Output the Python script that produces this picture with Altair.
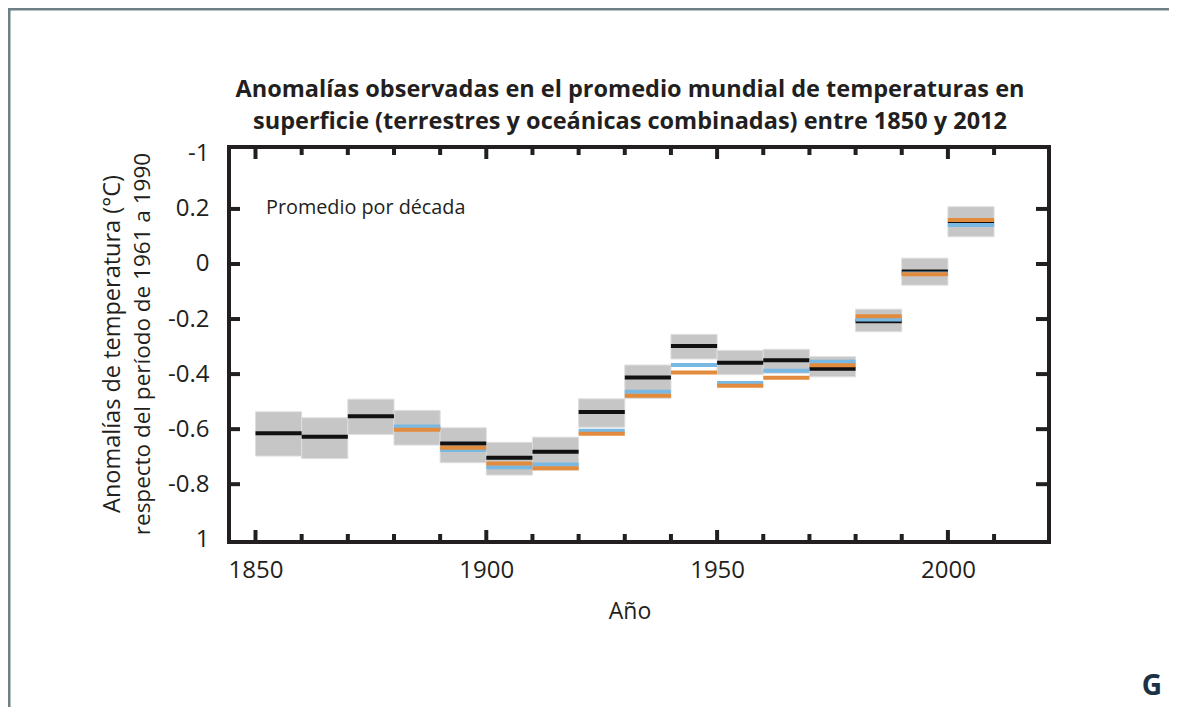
import altair as alt
import pandas as pd

# ---- data ----
decades = [1850, 1860, 1870, 1880, 1890, 1900, 1910, 1920, 1930, 1940,
           1950, 1960, 1970, 1980, 1990, 2000]
band_top = [-0.537, -0.559, -0.491, -0.532, -0.595, -0.648, -0.629, -0.490,
            -0.367, -0.256, -0.314, -0.310, -0.337, -0.164, 0.021, 0.208]
band_bottom = [-0.698, -0.707, -0.619, -0.658, -0.722, -0.767, -0.749, -0.593,
               -0.488, -0.345, -0.402, -0.397, -0.410, -0.246, -0.077, 0.099]
hadcrut4 = [-0.615, -0.628, -0.553, -0.597, -0.652, -0.704, -0.682, -0.538,
            -0.412, -0.298, -0.359, -0.350, -0.381, -0.208, -0.027, 0.150]
giss = [None, None, None, -0.590, -0.676, -0.738, -0.728, -0.606,
        -0.464, -0.367, -0.432, -0.388, -0.355, -0.202, -0.035, 0.142]
ncdc = [None, None, None, -0.602, -0.668, -0.725, -0.742, -0.617,
        -0.479, -0.394, -0.442, -0.413, -0.368, -0.190, -0.037, 0.160]

x_tick_years = [1850, 1860, 1870, 1880, 1890, 1900, 1910, 1920, 1930, 1940,
                1950, 1960, 1970, 1980, 1990, 2000, 2010]
x_major_years = [1850, 1900, 1950, 2000]
x_label_years = [1850, 1900, 1950, 2000]
y_tick_values = [0.2, 0.0, -0.2, -0.4, -0.6, -0.8]
y_label_values = [0.4, 0.2, 0.0, -0.2, -0.4, -0.6, -0.8, -1.0]
y_label_texts = ["-1", "0.2", "0", "-0.2", "-0.4", "-0.6", "-0.8", "1"]

title_lines = ["Anomalías observadas en el promedio mundial de temperaturas en",
               "superficie (terrestres y oceánicas combinadas) entre 1850 y 2012"]
y_title_lines = ["Anomalías de temperatura (°C)",
                 "respecto del período de 1961 a 1990"]
x_title = "Año"
note = "Promedio por década"
corner = "G"

# ---- layout ----
W, H = 820, 395
FONT = "Open Sans"
INK = "#231f20"

xscale = alt.Scale(domain=[1844.26, 2021.9], nice=False, zero=False)
yscale = alt.Scale(domain=[-1.01, 0.425], nice=False, zero=False)

df = pd.DataFrame({"start": decades, "end": [d + 10 for d in decades],
                   "top": band_top, "bottom": band_bottom,
                   "had": hadcrut4, "giss": giss, "ncdc": ncdc})

label_expr = " : ".join(
    [f"abs(datum.value - ({v})) < 1e-6 ? '{t}'" for v, t in zip(y_label_values, y_label_texts)]
) + " : ''"

x_axis = alt.Axis(values=x_label_years, format="d", ticks=False, domain=False,
                  grid=False, title=None, labelFont=FONT, labelFontSize=24,
                  labelColor=INK, labelPadding=16)
y_axis = alt.Axis(values=y_label_values, labelExpr=label_expr, ticks=False,
                  domain=False, grid=False, title=None, labelFont=FONT,
                  labelFontSize=24, labelColor=INK, labelPadding=20,
                  labelAlign="right", labelBaseline="middle")

band = alt.Chart(df).mark_rect(fill="#c6c6c6", stroke="#dedede", strokeWidth=1).encode(
    x=alt.X("start:Q", scale=xscale, axis=x_axis),
    x2="end:Q",
    y=alt.Y("bottom:Q", scale=yscale, axis=y_axis),
    y2="top:Q",
)


def series(col, color):
    d = df.dropna(subset=[col])
    return alt.Chart(d).mark_rule(color=color, strokeWidth=4, strokeCap="butt").encode(
        x=alt.X("start:Q", scale=xscale, axis=x_axis),
        x2="end:Q",
        y=alt.Y(f"{col}:Q", scale=yscale, axis=y_axis),
    )


black_l = series("had", "#111111")
blue_l = series("giss", "#79b8e3")
orange_l = series("ncdc", "#e38b3c")

xt = pd.DataFrame({"year": x_tick_years,
                   "major": [y in x_major_years for y in x_tick_years]})
xt_major = xt[xt.major]
xt_minor = xt[~xt.major]


def xticks(d, y0, y1):
    return alt.Chart(d).mark_rule(color=INK, strokeWidth=4, strokeCap="butt").encode(
        x=alt.X("year:Q", scale=xscale, axis=x_axis),
        y=alt.value(y0), y2=alt.value(y1))


yt = pd.DataFrame({"v": y_tick_values})


def yticks(x0, x1):
    return alt.Chart(yt).mark_rule(color=INK, strokeWidth=4, strokeCap="butt").encode(
        y=alt.Y("v:Q", scale=yscale, axis=y_axis),
        x=alt.value(x0), x2=alt.value(x1))


ticks = [xticks(xt_major, H, H - 12), xticks(xt_minor, H, H - 8),
         xticks(xt_major, 0, 12), xticks(xt_minor, 0, 8),
         yticks(0, 11), yticks(W, W - 13)]

one = pd.DataFrame({"a": [0]})


def text(t, x, y, size, weight="normal", angle=0, align="center",
         baseline="alphabetic", color=INK):
    return alt.Chart(one).mark_text(text=t, font=FONT, fontSize=size,
                                    fontWeight=weight, angle=angle, align=align,
                                    baseline=baseline, color=color).encode(
        x=alt.value(x), y=alt.value(y))


texts = [
    text(title_lines[0], 401, -50, 23.5, "bold"),
    text(title_lines[1], 401, -18, 23.5, "bold"),
    text(x_title, 401, 472, 23),
    text(y_title_lines[0], -116, 197, 23.5, angle=270, baseline="middle"),
    text(y_title_lines[1], -86, 197, 22.5, angle=270, baseline="middle"),
    text(note, 37, 67, 19.8, align="left"),
    text(corner, 923, 548, 28, "bold", color="#1b3244"),
]

border = [
    alt.Chart(one).mark_rule(color="#6e7f86", strokeWidth=3).encode(
        x=alt.value(-220), y=alt.value(-139), y2=alt.value(560)),
    alt.Chart(one).mark_rule(color="#6e7f86", strokeWidth=3).encode(
        x=alt.value(-221), x2=alt.value(940), y=alt.value(-138)),
]

chart = alt.layer(band, black_l, blue_l, orange_l, *ticks, *texts, *border).properties(
    width=W, height=H,
    autosize=alt.AutoSizeParams(type="none"),
    padding={"left": 221, "top": 139, "right": 127, "bottom": 168},
).configure(background="white").configure_view(stroke=INK, strokeWidth=4)

chart.save("out.html", embed_options={"renderer": "svg", "actions": False})
